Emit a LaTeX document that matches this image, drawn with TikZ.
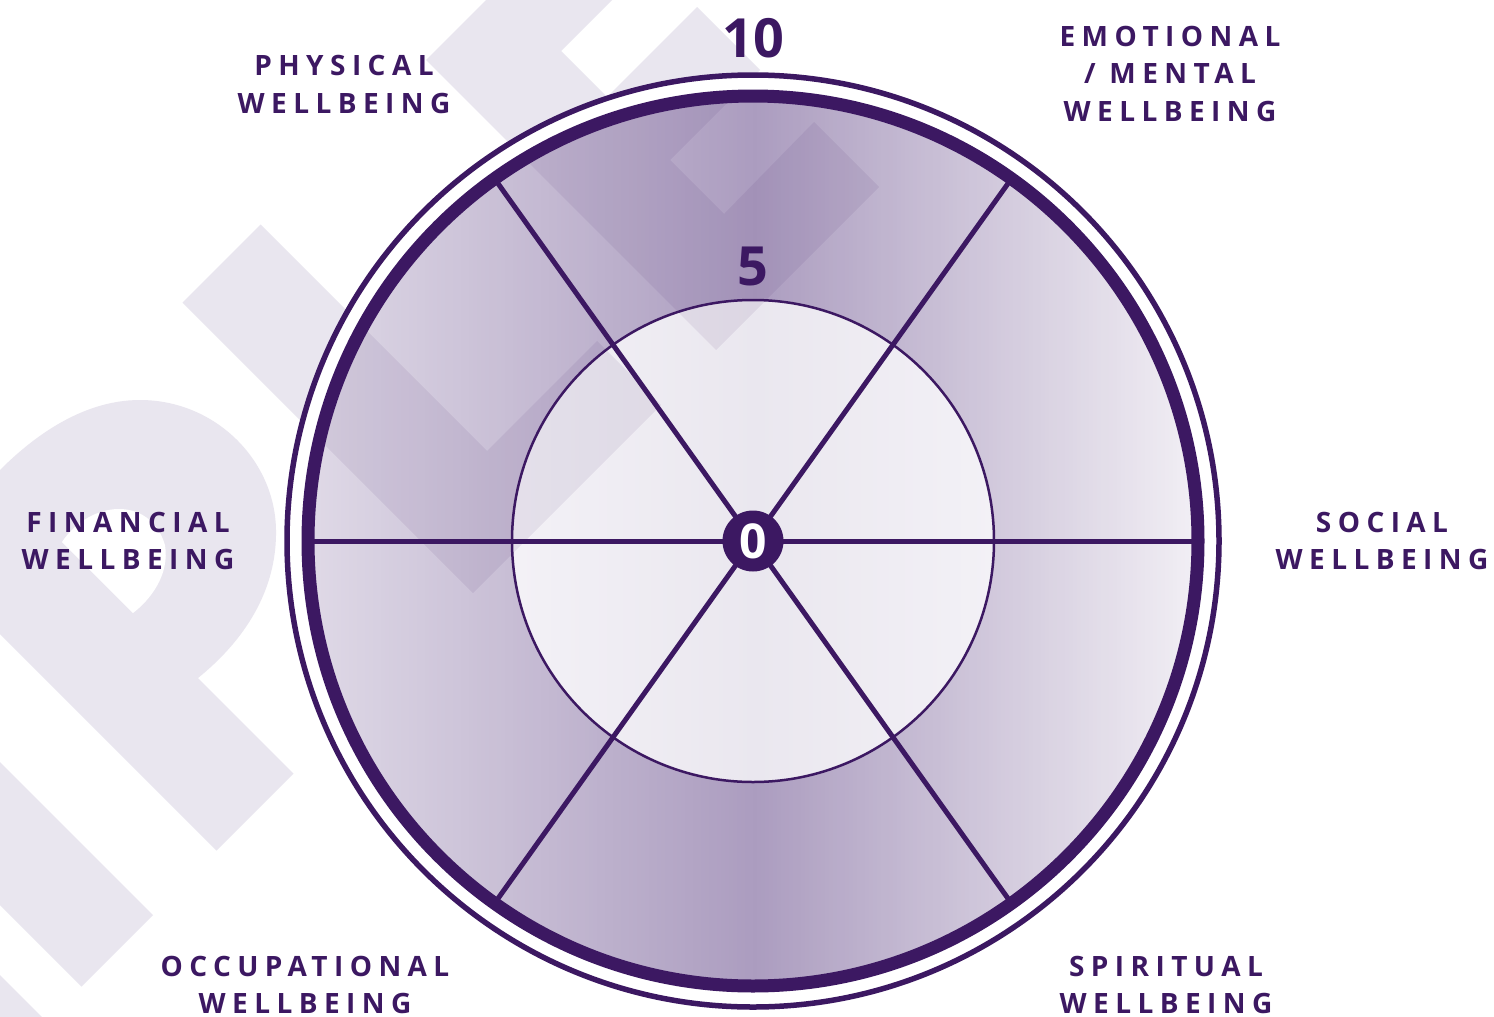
\documentclass[tikz,border=0pt]{standalone}
\usepackage{fontspec}
\setmainfont{Open Sans}
\newfontfamily\labfont{Open Sans}[LetterSpace=23]
\definecolor{dp}{HTML}{3C1862}
\definecolor{wm}{HTML}{E9E6EF}
\definecolor{ringL}{HTML}{DED8E6}
\definecolor{ringM}{HTML}{AB9CBF}
\definecolor{ringR}{HTML}{F1EEF4}
\definecolor{inL}{HTML}{F3F1F6}
\definecolor{inM}{HTML}{EAE7EF}
\tikzset{
  lab/.style={font=\labfont\bfseries\fontsize{28}{37.5}\selectfont, text=dp, align=center, inner sep=0pt},
  num/.style={font=\bfseries\fontsize{54}{60}\selectfont, text=dp, inner sep=0pt},
  wmark/.style={fill=wm, draw=none},
  wmover/.style={fill=dp, opacity=0.08, draw=none},
  spoke/.style={draw=dp, line width=5pt}
}
\newcommand{\wmA}[1]{\fill[#1] (182.5,302.5) -- (260.5,224.5) -- (487,451) -- (597,341) -- (661,405) -- (473,593) -- cycle;}
\newcommand{\wmB}[1]{\fill[#1] (486,0) -- (426,60) -- (716,350) -- (879,187) -- (814,122) -- (724,214)
  -- (670,160) -- (760,70) -- (697,7) -- (607,97) -- (561,51) -- (612,0) -- cycle;}
\begin{document}
\begin{tikzpicture}[x=1pt,y=-1pt]
\useasboundingbox[fill=white] (0,0) rectangle (1494,1017);
% watermark shapes
\fill[wmark] (0,634) -- (216.5,850.5) -- (293.5,773.5) -- (198,678)
  .. controls (245,640) and (277,590) .. (276,530)
  .. controls (275,460) and (215,400) .. (140,400)
  .. controls (80,400) and (30,440) .. (0,470) -- cycle;
\fill[white] (62,542) .. controls (90,500) and (150,495) .. (165,545)
  .. controls (170,575) and (150,600) .. (133,613) -- cycle;
\fill[wmark] (0,762) -- (153,915) -- (81.5,986.5) -- (0,905) -- cycle;
\fill[wmark] (0,975) -- (42,1017) -- (0,1017) -- cycle;
\wmA{wmark}
\wmB{wmark}
\coordinate (c) at (753,541);
% white gap between the rings
\fill[white] (c) circle[radius=468pt];
% ring gradient (vertical strips)
\begin{scope}
  \clip (c) circle[radius=440pt];
  \foreach \i in {0,...,110} {
    \pgfmathsetmacro\xx{313+4*\i}
    \pgfmathtruncatemacro\p{\i*100/110}
    \fill[ringM!\p!ringL] (\xx,95) rectangle ({\xx+4.6},990);
  }
  \foreach \i in {0,...,110} {
    \pgfmathsetmacro\xx{753+4*\i}
    \pgfmathtruncatemacro\p{100-\i*100/110}
    \fill[ringM!\p!ringR] (\xx,95) rectangle ({\xx+4.6},990);
  }
\end{scope}
% inner disc gradient
\begin{scope}
  \clip (c) circle[radius=241pt];
  \foreach \i in {0,...,61} {
    \pgfmathsetmacro\xx{511+4*\i}
    \pgfmathtruncatemacro\p{\i*100/61}
    \fill[inM!\p!inL] (\xx,295) rectangle ({\xx+4.6},790);
  }
  \foreach \i in {0,...,61} {
    \pgfmathsetmacro\xx{753+4*\i}
    \pgfmathtruncatemacro\p{100-\i*100/61}
    \fill[inM!\p!inL] (\xx,295) rectangle ({\xx+4.6},790);
  }
\end{scope}
% watermark seen through the wheel
\begin{scope}
  \clip (c) circle[radius=440pt];
  \wmA{wmover}
  \wmB{wmover}
\end{scope}
\draw[dp, line width=2.5pt] (c) circle[radius=241pt];
% spokes
\draw[spoke] (c) -- ++(180:440pt);
\draw[spoke] (c) -- ++(0:440pt);
\draw[spoke] (c) -- ++(54.5:440pt);
\draw[spoke] (c) -- ++(125.5:440pt);
\draw[spoke] (c) -- ++(-54.5:440pt);
\draw[spoke] (c) -- ++(-125.5:440pt);
% rings
\draw[dp, line width=13pt] (c) circle[radius=445pt];
\draw[dp, line width=5.5pt] (c) circle[radius=466pt];
% centre
\node[circle, fill=dp, minimum size=61pt, inner sep=0pt, text=white, font=\bfseries\fontsize{48}{50}\selectfont] (zero) at (c) {0};
\node[num] (ten) at (753,38) {10};
\node[num] (five) at (753,266) {5};
% labels
\node[lab] (phys) at (344,84.5) {PHYSICAL\\WELLBEING};
\node[lab] (emo) at (1170,73.5) {EMOTIONAL\\/ MENTAL\\WELLBEING};
\node[lab] (soc) at (1382,541) {SOCIAL\\WELLBEING};
\node[lab] (fin) at (128,541) {FINANCIAL\\WELLBEING};
\node[lab] (occ) at (305,985) {OCCUPATIONAL\\WELLBEING};
\node[lab] (spi) at (1166,985) {SPIRITUAL\\WELLBEING};
\end{tikzpicture}
\end{document}
